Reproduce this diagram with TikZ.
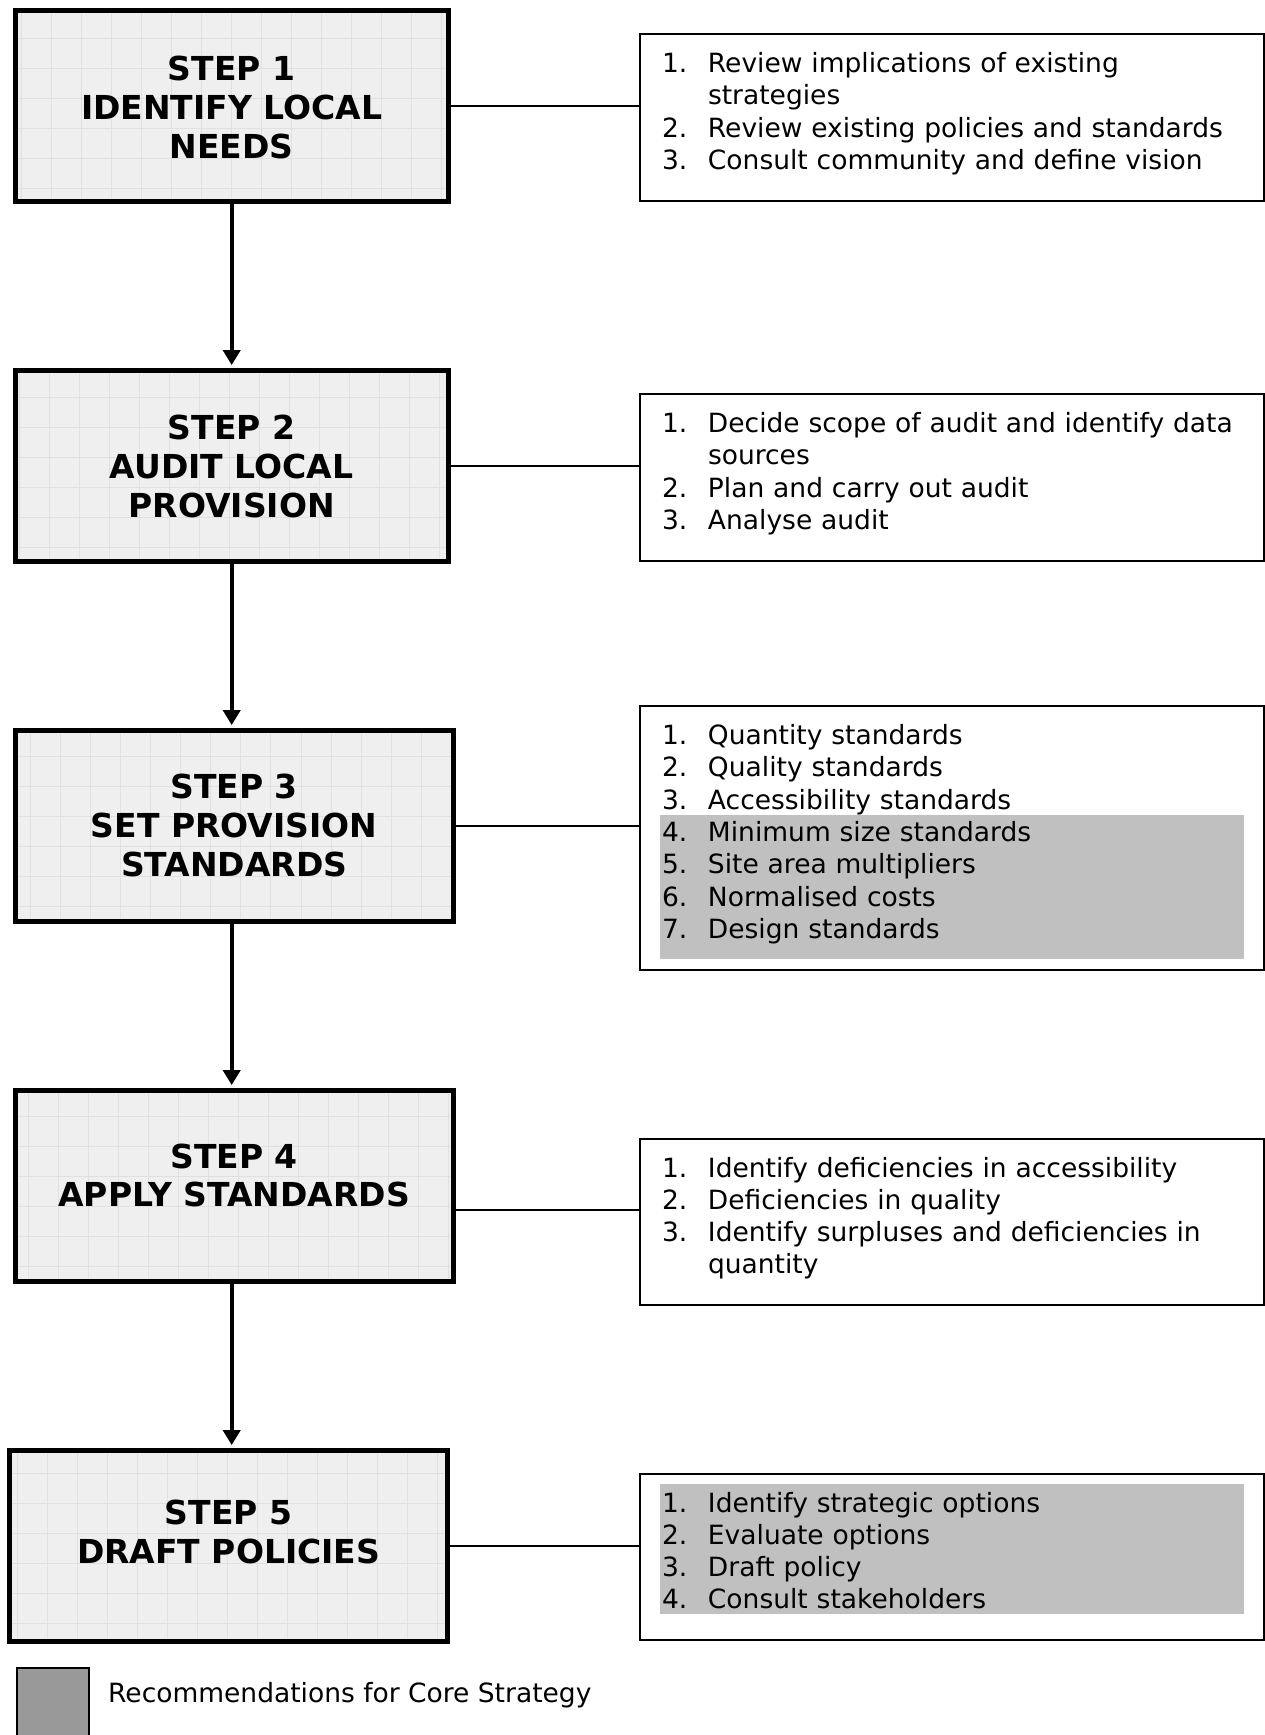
\documentclass[tikz,border=0pt]{standalone}
\usepackage{fontspec}
\setmainfont{DejaVu Sans}
\usetikzlibrary{arrows.meta,positioning}

\definecolor{stepfill}{RGB}{239,239,239}
\definecolor{stepgrid}{RGB}{224,224,224}
\definecolor{corefill}{RGB}{192,192,192}
\definecolor{keyfill}{RGB}{153,153,153}

\newcommand{\titlefont}{\fontsize{33}{38.7}\selectfont\bfseries}
\newcommand{\listfont}{\fontsize{26.5}{32.3}\selectfont}

\begin{document}
\begin{tikzpicture}[x=1pt,y=-1pt,node distance=360pt,on grid]
        \tikzset{
            stepbox/.style={draw, line width=5pt, fill=stepfill, minimum width=433pt, minimum height=191pt,
                align=center, font=\titlefont,
                path picture={\draw[stepgrid, line width=0.8pt] (path picture bounding box.south west)
                    grid[step=30pt] (path picture bounding box.north east);}},
            listbox/.style={draw, line width=2pt, text width=580pt, inner xsep=22pt, align=left, font=\listfont},
            flow/.style={line width=4pt, shorten >=2.5pt, -{Triangle[width=17pt,length=15pt]}},
            link/.style={line width=1.8pt}
        }
        \useasboundingbox (0,0) rectangle (1265,1735);

        \node[stepbox, text height=106pt]                                (s1) at (231.7,105.6) {STEP 1\\IDENTIFY LOCAL\\NEEDS};
        \node[stepbox, below=of s1, text height=104pt]                   (s2) {STEP 2\\AUDIT LOCAL\\PROVISION};
        \node[stepbox, below=of s2, xshift=2.5pt, minimum width=438pt]   (s3) {STEP 3\\SET PROVISION\\STANDARDS};
        \node[stepbox, below=of s3, minimum width=438pt, text depth=21pt] (s4) {STEP 4\\APPLY STANDARDS};
        \node[stepbox, below=of s4, xshift=-5.5pt, minimum width=438pt, text depth=28pt] (s5) {STEP 5\\DRAFT POLICIES};

        \fill[corefill] (660,815) rectangle (1244,959);
        \fill[corefill] (660,1484) rectangle (1244,1614);

        \node[listbox, minimum height=167pt] (l1) at (952,117.6) {\begin{tabular}{@{}p{46pt}@{}l@{}}
            1. & Review implications of existing\\
               & strategies\\
            2. & Review existing policies and standards\\
            3. & Consult community and define vision\\[6pt]
        \end{tabular}};
        \node[listbox, minimum height=167pt] (l2) at (952,477.6) {\begin{tabular}{@{}p{46pt}@{}l@{}}
            1. & Decide scope of audit and identify data\\
               & sources\\
            2. & Plan and carry out audit\\
            3. & Analyse audit\\[6pt]
        \end{tabular}};
        \node[listbox, minimum height=264pt] (l3) at (952,838) {\begin{tabular}{@{}p{46pt}@{}l@{}}
            1. & Quantity standards\\
            2. & Quality standards\\
            3. & Accessibility standards\\
            4. & Minimum size standards\\
            5. & Site area multipliers\\
            6. & Normalised costs\\
            7. & Design standards\\[6pt]
        \end{tabular}};
        \node[listbox, minimum height=166pt] (l4) at (952,1222) {\begin{tabular}{@{}p{46pt}@{}l@{}}
            1. & Identify deficiencies in accessibility\\
            2. & Deficiencies in quality\\
            3. & Identify surpluses and deficiencies in\\
               & quantity\\[6pt]
        \end{tabular}};
        \node[listbox, minimum height=166pt] (l5) at (952,1557) {\begin{tabular}{@{}p{46pt}@{}l@{}}
            1. & Identify strategic options\\
            2. & Evaluate options\\
            3. & Draft policy\\
            4. & Consult stakeholders\\[6pt]
        \end{tabular}};

        \draw[flow] (s1.south -| s1) -- (s2.north -| s1);
        \draw[flow] (s2.south -| s1) -- (s3.north -| s1);
        \draw[flow] (s3.south -| s1) -- (s4.north -| s1);
        \draw[flow] (s4.south -| s1) -- (s5.north -| s1);

        \draw[link] (s1.east) -- (s1.east -| l1.west);
        \draw[link] (s2.east) -- (s2.east -| l2.west);
        \draw[link] (s3.east) -- (s3.east -| l3.west);
        \draw[link] ([yshift=-24.4pt]s4.east) -- ([yshift=-24.4pt]s4.east -| l4.west);
        \draw[link] (s5.east) -- (s5.east -| l5.west);

        \node[draw, line width=2pt, fill=keyfill, minimum width=72pt, minimum height=80pt, anchor=north west] (key) at (16,1667) {};
        \node[anchor=base west, inner sep=0pt, font=\listfont] (keytext) at (108,1702) {Recommendations for Core Strategy};
\end{tikzpicture}
\end{document}
